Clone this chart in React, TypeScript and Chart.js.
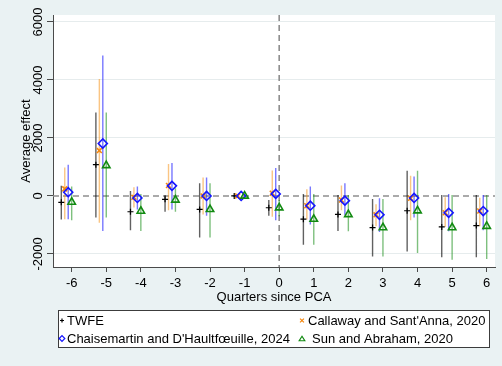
import React, { useEffect, useRef } from 'react';
import { Chart, registerables } from 'chart.js';

Chart.register(...registerables);

// ---------- data ----------
const quarters = [-6, -5, -4, -3, -2, -1, 0, 1, 2, 3, 4, 5, 6];
const xTickValues = [-6, -5, -4, -3, -2, -1, 0, 1, 2, 3, 4, 5, 6];
const yTickValues = [-2000, 0, 2000, 4000, 6000];

const seriesNames = [
  'TWFE',
  "Callaway and Sant'Anna, 2020",
  "Chaisemartin and D'Haultf\u0153uille, 2024",
  'Sun and Abraham, 2020',
];

// TWFE
const twfeEst = [-220, 1078, -545, -115, -463, 0, -406, -800, -637, -1090, -510, -1067, -1020];
const twfeLo = [-810, -740, -1183, -545, -1437, null, -685, -1680, -1206, -2087, -1913, -2110, -2110];
const twfeHi = [348, 2877, 174, 35, 441, null, -140, 70, 35, -105, 870, 35, 35];

// Callaway and Sant'Anna
const csEst = [243, 1565, -46, 360, 0, 0, 93, -337, -140, -650, -81, -580, -520];
const csLo = [-800, -927, -400, -490, -637, null, -720, -810, -490, -1043, -835, -1067, -1043];
const csHi = [985, 4035, 300, 1100, 637, null, 880, 233, 360, -290, 696, -46, -58];

// de Chaisemartin and D'Haultfoeuille
const dcdhEst = [128, 1809, -70, 348, 0, 0, 70, -337, -163, -650, -70, -580, -520];
const dcdhLo = [-800, -1206, -463, -463, -685, null, -835, -985, -660, -1240, -740, -1218, -1183];
const dcdhHi = [1078, 4845, 323, 1137, 637, null, 963, 323, 441, -81, 672, 70, 35];

// Sun and Abraham
const saEst = [-210, 1050, -520, -140, -463, 0, -406, -800, -637, -1090, -510, -1090, -1043];
const saLo = [-835, -740, -1206, -545, -1437, null, -700, -1680, -1218, -2087, -1970, -2200, -2170];
const saHi = [323, 2880, 70, 268, 441, null, -140, 70, 35, -105, 870, 35, 35];

// ---------- styling ----------
const FONT = "'Liberation Sans', Arial, sans-serif";
const BG = '#eaf2f3';
const AXIS = '#4a4a4a';
const dodge = [-0.3, -0.2, -0.1, 0];
const markerColors = ['#000000', '#f5870f', '#1414ff', '#118a11'];
const ciColors = ['rgba(0,0,0,0.62)', 'rgba(245,150,30,0.55)', 'rgba(30,30,255,0.6)', 'rgba(20,140,20,0.55)'];
const pointStyles = ['cross', 'crossRot', 'rectRot', 'triangle'];
const pointRadii = [3, 3.5, 4.5, 4.3];

type Num = number | null;

function ciPoints(lo: Num[], hi: Num[], off: number) {
  const pts: { x: number; y: number | null }[] = [];
  quarters.forEach((q, i) => {
    if (lo[i] == null || hi[i] == null) return;
    pts.push({ x: q + off, y: lo[i] as number });
    pts.push({ x: q + off, y: hi[i] as number });
    pts.push({ x: q + off, y: null });
  });
  return pts;
}

function estPoints(est: number[], off: number) {
  return quarters.map((q, i) => ({ x: q + off, y: est[i] }));
}

function drawMarker(ctx: CanvasRenderingContext2D, kind: number, x: number, y: number, r: number) {
  ctx.save();
  ctx.strokeStyle = markerColors[kind];
  ctx.lineWidth = 1.2;
  ctx.beginPath();
  if (kind === 0) {
    ctx.moveTo(x - r, y); ctx.lineTo(x + r, y);
    ctx.moveTo(x, y - r); ctx.lineTo(x, y + r);
  } else if (kind === 1) {
    const d = r * 0.75;
    ctx.moveTo(x - d, y - d); ctx.lineTo(x + d, y + d);
    ctx.moveTo(x + d, y - d); ctx.lineTo(x - d, y + d);
  } else if (kind === 2) {
    ctx.moveTo(x - r, y); ctx.lineTo(x, y - r); ctx.lineTo(x + r, y); ctx.lineTo(x, y + r); ctx.closePath();
  } else {
    const h = r * 1.6;
    ctx.moveTo(x, y - h / 2); ctx.lineTo(x + r, y + h / 2); ctx.lineTo(x - r, y + h / 2); ctx.closePath();
  }
  ctx.stroke();
  ctx.restore();
}

const plotBgPlugin = {
  id: 'plotBg',
  beforeDraw(chart: any) {
    const { ctx, chartArea } = chart;
    ctx.save();
    ctx.fillStyle = '#ffffff';
    ctx.fillRect(chartArea.left, chartArea.top, chartArea.right - chartArea.left, chartArea.bottom - chartArea.top);
    ctx.restore();
  },
};

const refLinesPlugin = {
  id: 'refLines',
  beforeDatasetsDraw(chart: any) {
    const { ctx, chartArea, scales } = chart;
    const x0 = scales.x.getPixelForValue(0);
    const y0 = scales.y.getPixelForValue(0);
    ctx.save();
    ctx.strokeStyle = '#8e8e8e';
    ctx.lineWidth = 1.6;
    ctx.setLineDash([6, 4]);
    ctx.beginPath();
    ctx.moveTo(chartArea.left, y0);
    ctx.lineTo(chartArea.right, y0);
    ctx.moveTo(x0, chartArea.top);
    ctx.lineTo(x0, chartArea.bottom);
    ctx.stroke();
    ctx.restore();
  },
};

const yLabelsPlugin = {
  id: 'yLabels',
  afterDraw(chart: any) {
    const { ctx, scales } = chart;
    const ys = scales.y;
    ctx.save();
    ctx.fillStyle = '#000';
    ctx.font = `13px ${FONT}`;
    ctx.textAlign = 'center';
    ctx.textBaseline = 'middle';
    yTickValues.forEach((v) => {
      const py = ys.getPixelForValue(v);
      ctx.save();
      ctx.translate(ys.right - 15, py);
      ctx.rotate(-Math.PI / 2);
      ctx.fillText(String(v), 0, 0);
      ctx.restore();
    });
    ctx.restore();
  },
};

const legendPlugin = {
  id: 'stataLegend',
  afterDraw(chart: any) {
    const { ctx, chartArea, scales } = chart;
    const left = chartArea.left + 5;
    const right = chartArea.right - 5;
    const top = scales.x.bottom + 5;
    const h = 38;
    ctx.save();
    ctx.fillStyle = '#ffffff';
    ctx.fillRect(left, top, right - left, h);
    ctx.strokeStyle = '#3c3c3c';
    ctx.lineWidth = 1;
    ctx.strokeRect(left + 0.5, top + 0.5, right - left - 1, h - 1);
    ctx.font = `13px ${FONT}`;
    ctx.fillStyle = '#000';
    ctx.textAlign = 'left';
    ctx.textBaseline = 'middle';
    const colX = [left + 4, left + 244];
    const rowY = [top + 10.5, top + 28.5];
    const layout = [
      { k: 0, c: 0, r: 0, gap: 5 },
      { k: 1, c: 1, r: 0, gap: 6 },
      { k: 2, c: 0, r: 1, gap: 5 },
      { k: 3, c: 1, r: 1, gap: 10 },
    ];
    layout.forEach(({ k, c, r, gap }) => {
      const mx = colX[c];
      const my = rowY[r];
      drawMarker(ctx, k, mx, my, k === 0 ? 2 : k === 1 ? 2.6 : 2.8);
      ctx.fillText(seriesNames[k], mx + gap, my + 0.5);
    });
    ctx.restore();
  },
};

export default function App() {
  const ref = useRef<HTMLCanvasElement | null>(null);

  useEffect(() => {
    if (!ref.current) return;
    const ests = [twfeEst, csEst, dcdhEst, saEst];
    const los = [twfeLo, csLo, dcdhLo, saLo];
    const his = [twfeHi, csHi, dcdhHi, saHi];

    const markerSets = ests.map((est, k) => ({
      label: seriesNames[k],
      data: estPoints(est, dodge[k]),
      pointStyle: pointStyles[k],
      pointRadius: pointRadii[k],
      pointHoverRadius: pointRadii[k],
      pointBorderColor: markerColors[k],
      pointBackgroundColor: 'rgba(0,0,0,0)',
      pointBorderWidth: k === 0 ? 1.2 : 1.6,
      showLine: false,
      order: 3 - k,
    }));
    const ciSets = los.map((lo, k) => ({
      label: seriesNames[k] + ' CI',
      data: ciPoints(lo, his[k], dodge[k]),
      showLine: true,
      spanGaps: false,
      borderColor: ciColors[k],
      borderWidth: 1.4,
      pointRadius: 0,
      pointHoverRadius: 0,
      order: 10 - k,
    }));

    const chart = new Chart(ref.current, {
      type: 'scatter',
      data: { datasets: [...markerSets, ...ciSets] as any },
      options: {
        animation: false,
        responsive: false,
        maintainAspectRatio: false,
        events: [],
        layout: { padding: { top: 15, right: 7, bottom: 61, left: 0 } },
        plugins: { legend: { display: false }, tooltip: { enabled: false } },
        scales: {
          x: {
            type: 'linear',
            min: -6.54,
            max: 6.24,
            afterBuildTicks: (s: any) => {
              s.ticks = xTickValues.map((v) => ({ value: v }));
            },
            afterFit: (s: any) => {
              s.height = 38;
            },
            grid: { drawOnChartArea: false, drawTicks: true, tickLength: 5, tickColor: AXIS, tickWidth: 1 },
            border: { display: true, color: AXIS, width: 1 },
            ticks: {
              font: { family: FONT, size: 13 },
              color: '#000',
              padding: 4,
              maxRotation: 0,
              autoSkip: false,
              callback: (v: any) => String(v),
            },
            title: {
              display: true,
              text: 'Quarters since PCA',
              font: { family: FONT, size: 13 },
              color: '#000',
              padding: { top: 0, bottom: 0 },
            },
          },
          y: {
            type: 'linear',
            min: -2450,
            max: 6240,
            afterBuildTicks: (s: any) => {
              s.ticks = yTickValues.map((v) => ({ value: v }));
            },
            afterFit: (s: any) => {
              s.width = 53;
            },
            grid: {
              color: (c: any) => (c.tick && c.tick.value === 0 ? 'rgba(0,0,0,0)' : '#e6eced'),
              tickColor: AXIS,
              tickLength: 6,
              lineWidth: 1,
            },
            border: { display: true, color: AXIS, width: 1 },
            ticks: { display: false },
            title: {
              display: true,
              text: 'Average effect',
              font: { family: FONT, size: 13 },
              color: '#000',
              padding: { top: 19, bottom: 0 },
            },
          },
        },
      },
      plugins: [plotBgPlugin, refLinesPlugin, yLabelsPlugin, legendPlugin],
    });
    return () => chart.destroy();
  }, []);

  return (
    <div style={{ position: 'fixed', left: 0, top: 0, width: 502, height: 366, background: BG }}>
      <canvas ref={ref} width={502} height={366} style={{ display: 'block' }} />
    </div>
  );
}
